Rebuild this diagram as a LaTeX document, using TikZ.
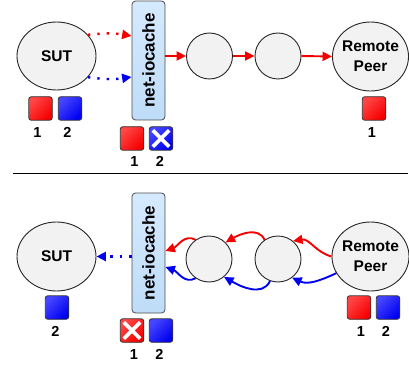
\documentclass[tikz,border=0pt]{standalone}
\usepackage{fontspec}
\setmainfont{Liberation Sans}
\usetikzlibrary{shapes.geometric,arrows.meta,calc}

\definecolor{hopfill}{RGB}{242,242,242}
\definecolor{cachetop}{RGB}{214,234,254}
\definecolor{cachebot}{RGB}{190,220,248}
\definecolor{pktred}{RGB}{245,0,0}
\definecolor{pktredlight}{RGB}{255,70,70}
\definecolor{pktblue}{RGB}{0,0,240}
\definecolor{pktbluelight}{RGB}{70,70,255}

\begin{document}
\begin{tikzpicture}[x=1pt,y=-1pt,
  peer/.style={ellipse, draw=black!85, line width=0.9pt, fill=hopfill, inner sep=0pt},
  peertext/.style={font=\bfseries\fontsize{15.5}{20}\selectfont, align=center, inner sep=0pt},
  hop/.style={circle, draw=black!85, line width=0.9pt, fill=hopfill, minimum size=46pt, inner sep=0pt},
  cache/.style={draw=black!70, line width=0.8pt, rounded corners=3.5pt, top color=cachetop, bottom color=cachebot,
    minimum width=33pt, inner sep=0pt, font=\bfseries\fontsize{17}{17}\selectfont},
  pkt/.style={draw=black!80, line width=0.8pt, rounded corners=2.5pt, minimum size=23.5pt, inner sep=0pt},
  redpkt/.style={pkt, top color=pktredlight, bottom color=pktred, shading angle=45},
  bluepkt/.style={pkt, top color=pktbluelight, bottom color=pktblue, shading angle=45},
  num/.style={font=\bfseries\fontsize{14.5}{14.5}\selectfont, anchor=base, inner sep=0pt},
  cross/.style={white, line width=3.6pt},
  tip/.style={-{Triangle[length=9.5pt,width=9pt]}},
  redarrow/.style={tip, pktred, line width=1.9pt},
  bluearrow/.style={tip, pktblue, line width=1.9pt},
  reddots/.style={tip, pktred, line width=2.4pt, dash pattern=on 2.4pt off 7pt},
  bluedots/.style={tip, pktblue, line width=2.4pt, dash pattern=on 2.4pt off 7pt},
]
\useasboundingbox (0,0) rectangle (409,366);

% ---------- upper scenario ----------
\node[peer, minimum width=79pt, minimum height=68pt, label={[peertext]center:SUT}] (sut1) at (56.5,56) {};
\node[cache, minimum height=119pt] (box1) at (148.5,60.5) {\rotatebox{90}{net-iocache}};
\node[hop] (c11) at (209.5,56) {};
\node[hop] (c12) at (278,56) {};
\node[peer, minimum width=76pt, minimum height=69pt, label={[peertext]center:Remote\\Peer}] (rp1) at (370.5,56.5) {};

\draw[reddots] (sut1.34) to[bend left=8] ([yshift=24.5pt]box1.west);
\draw[bluedots] (sut1.-34) to[bend right=8] ([yshift=-16.5pt]box1.west);
\draw[redarrow] (box1.east |- c11.west) -- (c11.west);
\draw[redarrow] (c11.east) -- (c12.west);
\draw[redarrow] (c12.east) -- (rp1.west);

% packets held by each side
\node[redpkt] (tsr) at (40.5,108.5) {};
\node[bluepkt] (tsb) at (70,108.5) {};
\node[num] (tsr1) at (37.5,138) {1};
\node[num] (tsb2) at (67.5,138) {2};

\node[redpkt] (tcr) at (132,138.5) {};
\node[bluepkt] (tcb) at (161,138.5) {};
\draw[cross] ([shift={(4pt,-4pt)}]tcb.north west) -- ([shift={(-4pt,4pt)}]tcb.south east);
\draw[cross] ([shift={(4pt,4pt)}]tcb.south west) -- ([shift={(-4pt,-4pt)}]tcb.north east);
\node[num] (tcr1) at (134.5,167) {1};
\node[num] (tcb2) at (160,167) {2};

\node[redpkt] (trr) at (374,108.5) {};
\node[num] (trr1) at (372,138) {1};

% separator
\coordinate (sepL) at (13,173);
\coordinate (sepR) at (408,173);
\draw[line width=1pt] (sepL) -- (sepR);

% ---------- lower scenario ----------
\node[peer, minimum width=79pt, minimum height=69pt, label={[peertext]center:SUT}] (sut2) at (56.5,256.5) {};
\node[cache, minimum height=120pt] (box2) at (148.5,253) {\rotatebox{90}{net-iocache}};
\node[hop] (c21) at (209,259) {};
\node[hop] (c22) at (278,259) {};
\node[peer, minimum width=77pt, minimum height=69pt, label={[peertext]center:Remote\\Peer}] (rp2) at (370.5,256.5) {};

\draw[bluedots] (box2.west |- sut2.east) -- (sut2.east);

\draw[redarrow] (rp2.west) to[out=165, in=10] (c22.50);
\draw[redarrow] (c22.125) to[out=115, in=30] (c21.45);
\draw[redarrow] (c21.125) to[out=150, in=20] ([yshift=2pt]box2.east);

\draw[bluearrow] (rp2.206) to[out=205, in=-25] (c22.307);
\draw[bluearrow] (c22.250) to[out=-115, in=-30] (c21.310);
\draw[bluearrow] (c21.235) to[out=-150, in=-20] ([yshift=-14pt]box2.east);

\node[bluepkt] (bsb) at (57,307.5) {};
\node[num] (bsb2) at (55.5,336) {2};

\node[redpkt] (bcr) at (132,330.5) {};
\draw[cross] ([shift={(4pt,-4pt)}]bcr.north west) -- ([shift={(-4pt,4pt)}]bcr.south east);
\draw[cross] ([shift={(4pt,4pt)}]bcr.south west) -- ([shift={(-4pt,-4pt)}]bcr.north east);
\node[bluepkt] (bcb) at (161,330.5) {};
\node[num] (bcr1) at (134,359) {1};
\node[num] (bcb2) at (159.5,359) {2};

\node[redpkt] (brr) at (359,307.5) {};
\node[bluepkt] (brb) at (388,307.5) {};
\node[num] (brr1) at (361,336) {1};
\node[num] (brb2) at (386,336) {2};
\end{tikzpicture}
\end{document}
